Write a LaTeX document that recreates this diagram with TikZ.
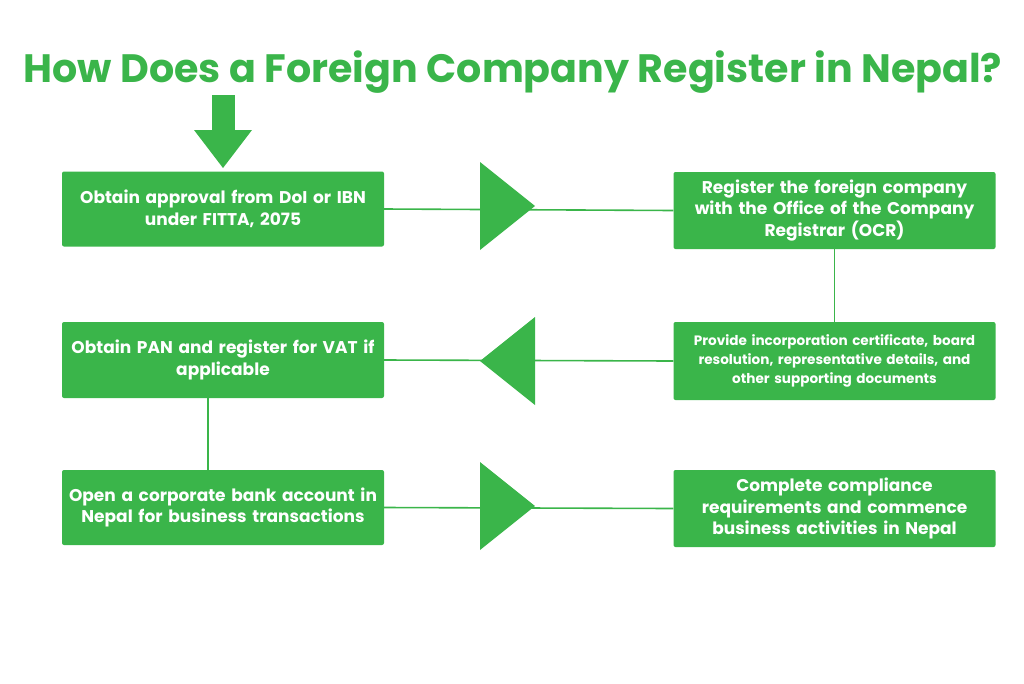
\documentclass[tikz,border=0pt]{standalone}
\usepackage{fontspec}
\setmainfont{Poppins}[BoldFont={* Bold}]
\definecolor{gr}{HTML}{3AB54A}
\begin{document}
\begin{tikzpicture}[x=1pt,y=-1pt,
 box/.style={fill=gr,rounded corners=2pt,minimum width=322pt,text width=316pt,align=center,text=white,font=\bfseries\fontsize{17}{21.5}\selectfont,inner sep=0pt},
 ln/.style={draw=gr,line width=1.6pt},
 tri/.style={fill=gr}]
\useasboundingbox (0,0) rectangle (1024,683);
\node[text=gr,font=\bfseries\fontsize{39.6}{46}\selectfont] (title) at (513,72) {How Does a Foreign Company Register in Nepal?};
\node[box,minimum height=75pt] (b1) at (223,209) {Obtain approval from DoI or IBN\\under FITTA, 2075};
\node[box,minimum height=77pt] (b2) at (834.5,210.5) {Register the foreign company\\with the Office of the Company\\Registrar (OCR)};
\node[box,minimum height=78pt,font=\bfseries\fontsize{13.6}{19}\selectfont] (b3) at (834.5,361) {Provide incorporation certificate, board\\resolution, representative details, and\\other supporting documents};
\node[box,minimum height=76pt] (b4) at (223,360) {Obtain PAN and register for VAT if\\applicable};
\node[box,minimum height=75pt] (b5) at (223,507.5) {Open a corporate bank account in\\Nepal for business transactions};
\node[box,minimum height=77pt] (b6) at (834.5,508.5) {Complete compliance\\requirements and commence\\business activities in Nepal};
\fill[gr] (212,95) rectangle (235,131);
\fill[gr] (194,130) -- (252,130) -- (223,168) -- cycle;
\draw[ln] (b1.east) -- (b2.west);
\draw[ln] (b3.west) -- (b4.east);
\draw[ln] (b5.east) -- (b6.west);
\draw[ln] (b2.south) -- (b3.north);
\draw[ln] (b4.south -| 208,0) -- (b5.north -| 208,0);
\fill[gr] (480,162) -- (535,206) -- (480,250) -- cycle;
\fill[gr] (535,317) -- (480,361) -- (535,405) -- cycle;
\fill[gr] (480,462) -- (535,506) -- (480,550) -- cycle;
\end{tikzpicture}
\end{document}
